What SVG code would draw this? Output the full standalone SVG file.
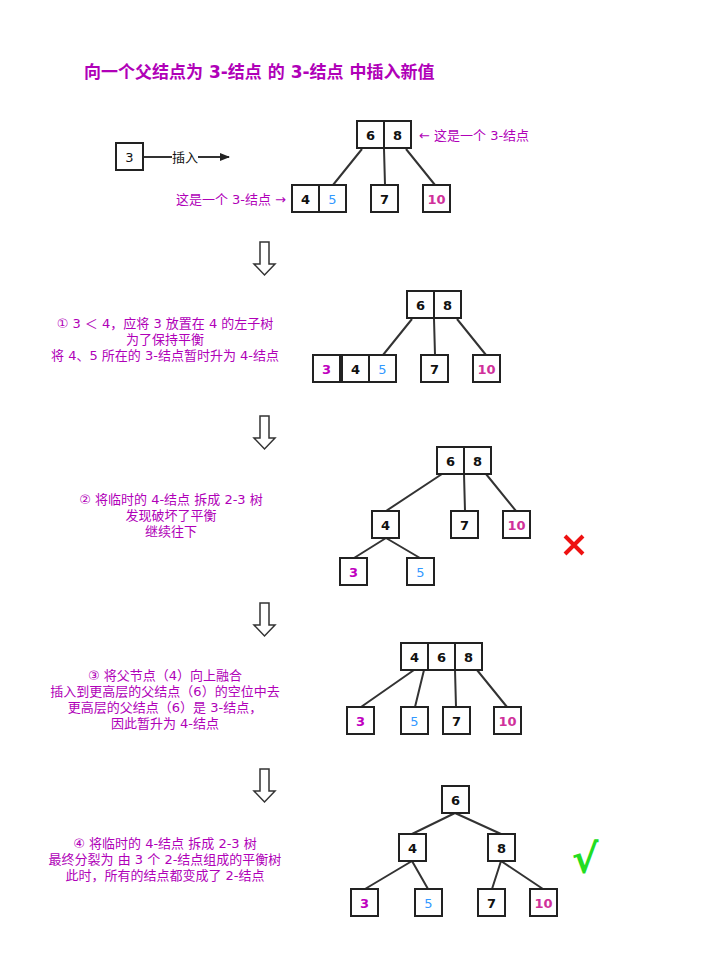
<svg xmlns="http://www.w3.org/2000/svg" width="727" height="978" viewBox="0 0 727 978">
<style>
.b{fill:#fff;stroke:#222;stroke-width:2}
.n{font-family:"DejaVu Sans","Noto Sans CJK SC",sans-serif;font-size:13px;font-weight:bold;text-anchor:middle;fill:#111}
.p{fill:#d0309a}.bl{fill:#3399ff;font-weight:normal}.m{fill:#c000c0}
.t{font-family:"DejaVu Sans","Noto Sans CJK SC",sans-serif;font-size:13px;fill:#b000b8;text-anchor:middle}
.l{stroke:#333;stroke-width:2;fill:none}
.da{fill:#fff;stroke:#333;stroke-width:1.5}
</style>
<defs><marker id="ah" markerWidth="10" markerHeight="8" refX="9" refY="4" orient="auto" markerUnits="userSpaceOnUse"><path d="M0,0L10,4L0,8z" fill="#222"/></marker></defs>
<text x="84" y="78" font-family="DejaVu Sans,Noto Sans CJK SC,sans-serif" font-size="17" font-weight="bold" fill="#b000b8">向一个父结点为 3-结点 的 3-结点 中插入新值</text>
<g id="connectors">
<line class="l" x1="143" y1="157" x2="172" y2="157"/><line class="l" x1="198" y1="157" x2="229" y2="157" marker-end="url(#ah)"/>
<path class="l" d="M362,149L333,185M384,149L385,185M406,149L435,185"/>
<path class="l" d="M412,319L383,355M434,319L435,355M457,319L486,355"/>
<path class="l" d="M442,474L386,511M464,474L465,511M486,474L516,511M386,538L354,558M386,538L420,558"/>
<path class="l" d="M414,670L361,707M424,670L415,707M455,670L456,707M477,670L507,707"/>
<path class="l" d="M455,813L412,834M455,813L501,834M412,861L365,889M412,861L428,889M501,861L492,889M501,861L543,889"/>
</g>
<g id="insert"><rect class="b" x="116" y="143" width="27" height="27"/><text class="n" style="font-weight:normal" x="129.5" y="162">3</text>
<text x="185" y="162" font-family="Noto Sans CJK SC,sans-serif" font-size="13" text-anchor="middle" fill="#111">插入</text></g>
<g id="tree0">
<rect class="b" x="357" y="121" width="27" height="27"/><rect class="b" x="384" y="121" width="27" height="27"/>
<text class="n" x="370.5" y="140">6</text><text class="n" x="397.5" y="140">8</text>
<rect class="b" x="292" y="185" width="27" height="27"/><rect class="b" x="319" y="185" width="27" height="27"/>
<text class="n" x="305.5" y="204">4</text><text class="n bl" x="332.5" y="204">5</text>
<rect class="b" x="371" y="185" width="27" height="27"/><text class="n" x="384.5" y="204">7</text>
<rect class="b" x="423" y="185" width="27" height="27"/><text class="n p" x="436.5" y="204">10</text>
<text class="t" x="419" y="140" text-anchor="start" style="text-anchor:start">← 这是一个 3-结点</text>
<text class="t" x="286" y="204" style="text-anchor:end">这是一个 3-结点 →</text>
</g>
<g id="arrows">
<path class="da" d="M260,242h9v22h6l-10.5,11l-10.5,-11h6z"/>
<path class="da" d="M260,416h9v22h6l-10.5,11l-10.5,-11h6z"/>
<path class="da" d="M260,603h9v22h6l-10.5,11l-10.5,-11h6z"/>
<path class="da" d="M260,769h9v22h6l-10.5,11l-10.5,-11h6z"/>
</g>
<g id="step1">
<text class="t" x="165" y="328">① 3 ＜ 4，应将 3 放置在 4 的左子树</text>
<text class="t" x="165" y="344">为了保持平衡</text>
<text class="t" x="165" y="360">将 4、5 所在的 3-结点暂时升为 4-结点</text>
<rect class="b" x="407" y="291" width="27" height="27"/><rect class="b" x="434" y="291" width="27" height="27"/>
<text class="n" x="420.5" y="310">6</text><text class="n" x="447.5" y="310">8</text>
<rect class="b" x="313" y="355" width="27" height="27"/><rect class="b" x="342" y="355" width="27" height="27"/><rect class="b" x="369" y="355" width="27" height="27"/>
<text class="n m" x="326.5" y="374">3</text><text class="n" x="355.5" y="374">4</text><text class="n bl" x="382.5" y="374">5</text>
<rect class="b" x="421" y="355" width="27" height="27"/><text class="n" x="434.5" y="374">7</text>
<rect class="b" x="473" y="355" width="27" height="27"/><text class="n p" x="486.5" y="374">10</text>
</g>
<g id="step2">
<text class="t" x="171" y="504">② 将临时的 4-结点 拆成 2-3 树</text>
<text class="t" x="171" y="520">发现破坏了平衡</text>
<text class="t" x="171" y="536">继续往下</text>
<rect class="b" x="437" y="447" width="27" height="27"/><rect class="b" x="464" y="447" width="27" height="27"/>
<text class="n" x="450.5" y="466">6</text><text class="n" x="477.5" y="466">8</text>
<rect class="b" x="372" y="511" width="27" height="27"/><text class="n" x="385.5" y="530">4</text>
<rect class="b" x="451" y="511" width="27" height="27"/><text class="n" x="464.5" y="530">7</text>
<rect class="b" x="503" y="511" width="27" height="27"/><text class="n p" x="516.5" y="530">10</text>
<rect class="b" x="340" y="558" width="27" height="27"/><text class="n m" x="353.5" y="577">3</text>
<rect class="b" x="407" y="558" width="27" height="27"/><text class="n bl" x="420.5" y="577">5</text>
<path d="M565,536L583,554M583,536L565,554" stroke="#ee1111" stroke-width="4"/>
</g>
<g id="step3">
<text class="t" x="165" y="680">③ 将父节点（4）向上融合</text>
<text class="t" x="165" y="696">插入到更高层的父结点（6）的空位中去</text>
<text class="t" x="165" y="712">更高层的父结点（6）是 3-结点，</text>
<text class="t" x="165" y="728">因此暂升为 4-结点</text>
<rect class="b" x="401" y="643" width="27" height="27"/><rect class="b" x="428" y="643" width="27" height="27"/><rect class="b" x="455" y="643" width="27" height="27"/>
<text class="n" x="414.5" y="662">4</text><text class="n" x="441.5" y="662">6</text><text class="n" x="468.5" y="662">8</text>
<rect class="b" x="347" y="707" width="27" height="27"/><text class="n m" x="360.5" y="726">3</text>
<rect class="b" x="401" y="707" width="27" height="27"/><text class="n bl" x="414.5" y="726">5</text>
<rect class="b" x="443" y="707" width="27" height="27"/><text class="n" x="456.5" y="726">7</text>
<rect class="b" x="494" y="707" width="27" height="27"/><text class="n p" x="507.5" y="726">10</text>
</g>
<g id="step4">
<text class="t" x="165" y="848">④ 将临时的 4-结点 拆成 2-3 树</text>
<text class="t" x="165" y="864">最终分裂为 由 3 个 2-结点组成的平衡树</text>
<text class="t" x="165" y="880">此时，所有的结点都变成了 2-结点</text>
<rect class="b" x="442" y="786" width="27" height="27"/><text class="n" x="455.5" y="805">6</text>
<rect class="b" x="399" y="834" width="27" height="27"/><text class="n" x="412.5" y="853">4</text>
<rect class="b" x="488" y="834" width="27" height="27"/><text class="n" x="501.5" y="853">8</text>
<rect class="b" x="351" y="889" width="27" height="27"/><text class="n m" x="364.5" y="908">3</text>
<rect class="b" x="415" y="889" width="27" height="27"/><text class="n bl" x="428.5" y="908">5</text>
<rect class="b" x="478" y="889" width="27" height="27"/><text class="n" x="491.5" y="908">7</text>
<rect class="b" x="530" y="889" width="27" height="27"/><text class="n p" x="543.5" y="908">10</text>
<text x="585" y="873" font-family="DejaVu Sans,sans-serif" font-size="40" font-weight="bold" fill="#22dd22" text-anchor="middle">√</text>
</g>
</svg>
